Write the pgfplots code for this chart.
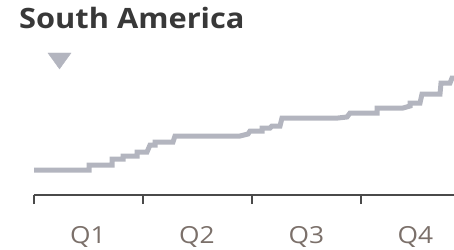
\documentclass[border=0pt]{standalone}
\usepackage{fontspec}
\setmainfont{Open Sans}
\newfontfamily\titfont[FakeStretch=1.1]{Open Sans}
\newfontfamily\labfont[FakeStretch=1.12]{Open Sans}
\usepackage{pgfplots}
\pgfplotsset{compat=1.18}
\definecolor{linec}{HTML}{B3B5BF}
\definecolor{axisc}{HTML}{4A4A4A}
\definecolor{labc}{HTML}{7B706A}
\definecolor{titc}{HTML}{383838}
\begin{document}
\begin{tikzpicture}[x=1bp,y=1bp]
\useasboundingbox (0,0) rectangle (454,-249);
\node[anchor=base west, inner sep=0, text=titc, font=\titfont\fontsize{28bp}{30bp}\selectfont\bfseries] at (19,-28.3) {South America};
\begin{axis}[
  at={(34bp,-195bp)}, anchor=origin,
  scale only axis, width=420bp, height=140bp,
  xmin=0, xmax=420, ymin=0, ymax=140,
  axis x line*=bottom, axis y line=none,
  x axis line style={color=axisc, line width=1.3bp, -},
  xtick={0,109,218,327}, xticklabels={},
  major tick length=9bp,
  every tick/.style={color=axisc, line width=1.3bp},
  xtick align=outside,
  clip=false,
]
\addplot[color=linec, line width=5bp, line join=miter] coordinates {
(0,25)(55,25)(55,30)(78,30)(78,36)(89,36)(89,39)(103,39)(103,43)(113,43)(116,50)(121,50)(121,53)(139,53)(141,59)(206,59)(214,61)(216,64)(228,64)(228,67)(236,67)(238,69)(246,69)(248,77)(304,77)(313,78)(316,82)(343,82)(343,87)(369,87)(376,89)(376,92)(386,92)(388,101)(406,101)(407,112)(416,112)(418,117)(420,117)
};
\addplot[only marks, mark=triangle*, mark size=13.3bp, color=linec, mark options={yscale=-0.8}] coordinates {(25.5,136.7)};
\foreach \q/\xx in {Q1/54,Q2/163,Q3/272.5,Q4/381.5}{
  \edef\tmp{\noexpand\node[anchor=base, text=labc, inner sep=0, font=\noexpand\labfont\noexpand\fontsize{23.5bp}{25bp}\noexpand\selectfont] at (axis cs:\xx,-48.5) {\q};}
  \tmp
}
\end{axis}
\end{tikzpicture}
\end{document}
